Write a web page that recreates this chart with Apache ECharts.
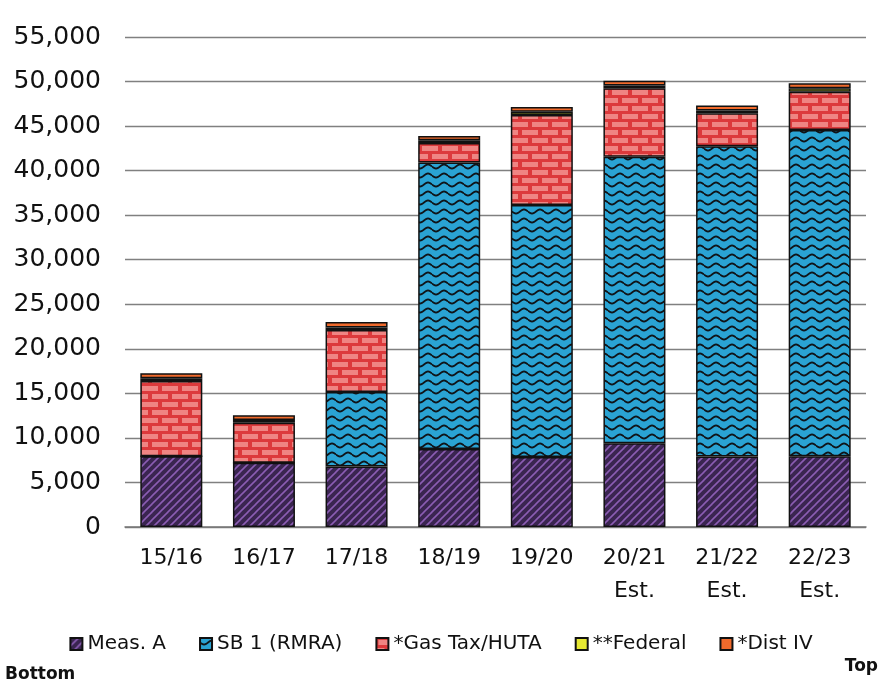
<!DOCTYPE html>
<html>
<head>
<meta charset="utf-8">
<script src="https://cdn.jsdelivr.net/npm/echarts@6/dist/echarts.min.js"></script>
<style>
  html, body { margin: 0; padding: 0; background: #fff; }
  #chart { width: 882px; height: 687px; }
</style>
</head>
<body>
<div id="chart"></div>
<script>
// values (thousands of $)
const categories = ['15/16', '16/17', '17/18', '18/19', '19/20', '20/21\nEst.', '21/22\nEst.', '22/23\nEst.'];
const measA   = [7950, 7200, 6800, 8750, 7850, 9400, 7900, 7950];
const sb1     = [0, 0, 8350, 32150, 28300, 32150, 34850, 36600];
const gasTax  = [8450, 4500, 6950, 2200, 10100, 7700, 3700, 4300];
const federal = [300, 300, 300, 300, 350, 300, 300, 400];
const distIV  = [550, 550, 600, 500, 550, 550, 550, 550];
const yTicks  = [0, 5000, 10000, 15000, 20000, 25000, 30000, 35000, 40000, 45000, 50000, 55000];

// fill patterns
function makeCanvas(w, h) {
    const c = document.createElement('canvas');
    c.width = w; c.height = h;
    return c;
}
function hatch() {
    const c = makeCanvas(8, 8), ctx = c.getContext('2d');
    ctx.fillStyle = '#3a2550';
    ctx.fillRect(0, 0, 8, 8);
    ctx.strokeStyle = '#8b5db3';
    ctx.lineWidth = 1.6;
    [-8, 0, 8].forEach(x => {
        ctx.beginPath();
        ctx.moveTo(x - 1, 9);
        ctx.lineTo(x + 9, -1);
        ctx.stroke();
    });
    return c;
}
function wave() {
    const c = makeCanvas(16, 9), ctx = c.getContext('2d');
    ctx.fillStyle = '#2aa3d3';
    ctx.fillRect(0, 0, 16, 9);
    ctx.strokeStyle = '#101418';
    ctx.lineWidth = 1.8;
    ctx.beginPath();
    for (let x = 0; x <= 16; x++) {
        const y = 4.5 + 2 * Math.sin(2 * Math.PI * x / 16);
        x === 0 ? ctx.moveTo(x, y) : ctx.lineTo(x, y);
    }
    ctx.stroke();
    return c;
}
function brick() {
    const c = makeCanvas(40, 16), ctx = c.getContext('2d');
    ctx.fillStyle = '#dc3a3c';
    ctx.fillRect(0, 0, 40, 16);
    ctx.fillStyle = '#ef8583';
    ctx.fillRect(2, 2, 16, 5); ctx.fillRect(22, 2, 16, 5);
    ctx.fillRect(-8, 10, 16, 5); ctx.fillRect(12, 10, 16, 5); ctx.fillRect(32, 10, 16, 5);
    return c;
}

const fills = [
    { image: hatch(), repeat: 'repeat' },
    { image: wave(), repeat: 'repeat' },
    { image: brick(), repeat: 'repeat' },
    '#e6e832',
    '#f06a2c'
];
const names = ['Meas. A', 'SB 1 (RMRA)', '*Gas Tax/HUTA', '**Federal', '*Dist IV'];
const values = [measA, sb1, gasTax, federal, distIV];

const chart = echarts.init(document.getElementById('chart'));
const option = {
    backgroundColor: '#fff',
    animation: false,
    textStyle: { fontFamily: 'DejaVu Sans' },
    grid: { left: 125, right: 16, top: 37, bottom: 160 },
    legend: {
        bottom: 28,
        left: 'center',
        itemWidth: 12,
        itemHeight: 12,
        itemGap: 33,
        icon: 'rect',
        textStyle: { fontSize: 20, color: '#111', fontFamily: 'DejaVu Sans' },
        data: names
    },
    xAxis: {
        type: 'category',
        data: categories,
        axisTick: { show: false },
        axisLine: { lineStyle: { color: '#777', width: 1.5 } },
        axisLabel: { fontSize: 22, color: '#111', lineHeight: 33, margin: 15 }
    },
    yAxis: {
        type: 'value',
        min: 0,
        max: yTicks[yTicks.length - 1],
        interval: yTicks[1] - yTicks[0],
        axisLine: { show: false },
        axisTick: { show: false },
        splitLine: { lineStyle: { color: '#808080', width: 1.3 } },
        axisLabel: {
            fontSize: 25, color: '#111', margin: 24,
            formatter: v => v.toLocaleString('en-US')
        }
    },
    series: names.map((n, i) => ({
        name: n,
        type: 'bar',
        stack: 'total',
        barWidth: 62,
        data: values[i],
        itemStyle: { color: fills[i], borderColor: '#111', borderWidth: 1.5 }
    })),
    graphic: [
        { type: 'text', left: 5, top: 666, style: { text: 'Bottom', fontSize: 17, fontWeight: 'bold', fill: '#111', fontFamily: 'DejaVu Sans' } },
        { type: 'text', right: 4, top: 658, style: { text: 'Top', fontSize: 17, fontWeight: 'bold', fill: '#111', fontFamily: 'DejaVu Sans' } }
    ]
};
chart.setOption(option);
</script>
</body>
</html>
